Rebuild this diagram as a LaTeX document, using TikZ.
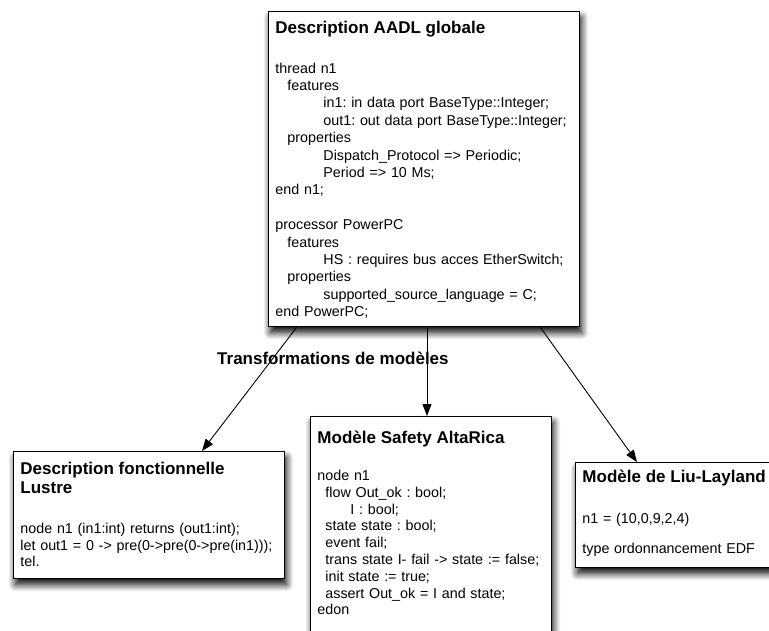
\documentclass[tikz,border=0pt]{standalone}
\usepackage{fontspec}
\setmainfont{Liberation Sans}
\usepackage{xcolor}
\usetikzlibrary{arrows.meta,shadows.blur}
\frenchspacing

\newcommand{\titlefont}{\fontsize{17}{19.5}\selectfont\bfseries}

\begin{document}
\begin{tikzpicture}[x=1pt,y=-1pt,
  modelbox/.style={draw=black,fill=white,line width=0.9pt,anchor=north west,align=left,
    inner xsep=7pt,inner ysep=0pt,
    blur shadow={shadow blur steps=12,shadow xshift=2pt,shadow yshift=-6pt,
      shadow blur radius=7pt,shadow opacity=100}},
  transfo/.style={-{Triangle[length=12pt,width=9pt]},line width=0.9pt}]
\useasboundingbox (0,0) rectangle (769,630);
\clip (0,0) rectangle (769,630);

% modele source
\node[modelbox,text width=297pt,text height=22pt,text depth=293pt,
  font=\fontsize{14.3}{17.4}\selectfont] (aadl) at (268,11) {%
{\titlefont Description AADL globale\par}
\vspace{22.3pt}
thread n1\\
\hspace*{12pt}features\\
\hspace*{48pt}in1: in data port BaseType::Integer;\\
\hspace*{48pt}out1: out data port BaseType::Integer;\\
\hspace*{12pt}properties\\
\hspace*{48pt}Dispatch\_Protocol => Periodic;\\
\hspace*{48pt}Period => 10 Ms;\\
end n1;\\[17.4pt]
processor PowerPC\\
\hspace*{12pt}features\\
\hspace*{48pt}HS : requires bus acces EtherSwitch;\\
\hspace*{12pt}properties\\
\hspace*{48pt}supported\_source\_language = C;\\
end PowerPC;};

% modeles cibles
\node[modelbox,text width=257pt,text height=23pt,text depth=104pt,
  font=\fontsize{14.3}{16.5}\selectfont] (lustre) at (13,451) {%
{\titlefont Description fonctionnelle\\Lustre\par}
\vspace{23.5pt}
node n1 (in1:int) returns (out1:int);\\
let out1 = 0 -> pre(0->pre(0->pre(in1)));\\
tel.};

\node[modelbox,text width=227pt,text height=27pt,text depth=220pt,
  font=\fontsize{14.3}{16.8}\selectfont] (altarica) at (310,416) {%
{\titlefont Modèle Safety AltaRica\par}
\vspace{20.2pt}
node n1\\
\hspace*{8pt}flow Out\_ok : bool;\\
\hspace*{33pt}I : bool;\\
\hspace*{8pt}state state : bool;\\
\hspace*{8pt}event fail;\\
\hspace*{8pt}trans state I- fail -> state := false;\\
\hspace*{8pt}init state := true;\\
\hspace*{8pt}assert Out\_ok = I and state;\\
edon};

\node[modelbox,text width=250pt,text height=20pt,text depth=85pt,
  font=\fontsize{14.3}{17}\selectfont] (liu) at (575,462) {%
{\titlefont Modèle de Liu-Layland\par}
\vspace{24pt}
n1 = (10,0,9,2,4)\\[13pt]
type ordonnancement EDF};

\node[font=\titlefont,anchor=base west,inner sep=0pt] (transfo) at (217,364) {Transformations de modèles};

\draw[transfo] ([xshift=29pt]aadl.south west) -- ([xshift=189pt]lustre.north west);
\draw[transfo] ([xshift=159pt]aadl.south west) -- ([xshift=117pt]altarica.north west);
\draw[transfo] ([xshift=272pt]aadl.south west) -- ([xshift=62pt]liu.north west);
\end{tikzpicture}
\end{document}
